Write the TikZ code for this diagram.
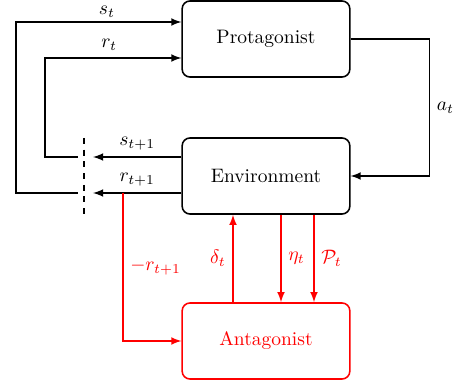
\documentclass[tikz,border=0pt]{standalone}
\usepackage{amsmath,amssymb}
\usepackage{tikz}
\usetikzlibrary{arrows,positioning,calc}

\begin{document}
\begin{tikzpicture}[x=0.513pt, y=-0.513pt, thick, >=latex]
   \useasboundingbox (0,0) rectangle (458,388);
   \begin{scope}[every node/.style={draw,rounded corners=4pt,minimum width=86pt,minimum height=39pt}]
    \node (prot) at (266,39) {Protagonist};
    \node (env) at (266,176) {Environment};
    \node (anta) [red] at (266,341) {Antagonist};
   \end{scope}
   % split in front of the environment
   \coordinate (gs) at (93,157);
   \coordinate (gr) at (93,193);
   \coordinate (ls) at (78,157);
   \coordinate (lr) at (78,193);
   \coordinate (cut1) at (84,138);
   \coordinate (cut2) at (84,214);
   \coordinate (tap) at (123,193);
   \draw[dashed] (cut1) -- (cut2);
   \begin{scope}[->]
    \draw (env.west |- gs) -- node[above]{$s_{t+1}$} (gs);
    \draw (env.west |- gr) -- node[above]{$r_{t+1}$} (gr);
    \draw (ls) -| (45,58) -- node[above,pos=0.47]{$r_t$} (prot.west |- 0,58);
    \draw (lr) -| (16,22) -- node[above,pos=0.55,inner sep=2pt]{$s_t$} (prot.west |- 0,22);
    \draw (prot.east) -- ++(79,0) |- node[pos=0.25,right]{$a_t$} (env.east);
   \end{scope}
   \begin{scope}[->,red]
    \draw (tap) |- node[pos=0.25,right]{$-r_{t+1}$} (anta.west);
    \draw (anta.north -| 233,0) -- node[left]{$\delta_t$} (env.south -| 233,0);
    \draw (env.south -| 281,0) -- node[right]{$\eta_t$} (anta.north -| 281,0);
    \draw (env.south -| 314,0) -- node[right]{$\mathcal{P}_t$} (anta.north -| 314,0);
   \end{scope}
\end{tikzpicture}
\end{document}
